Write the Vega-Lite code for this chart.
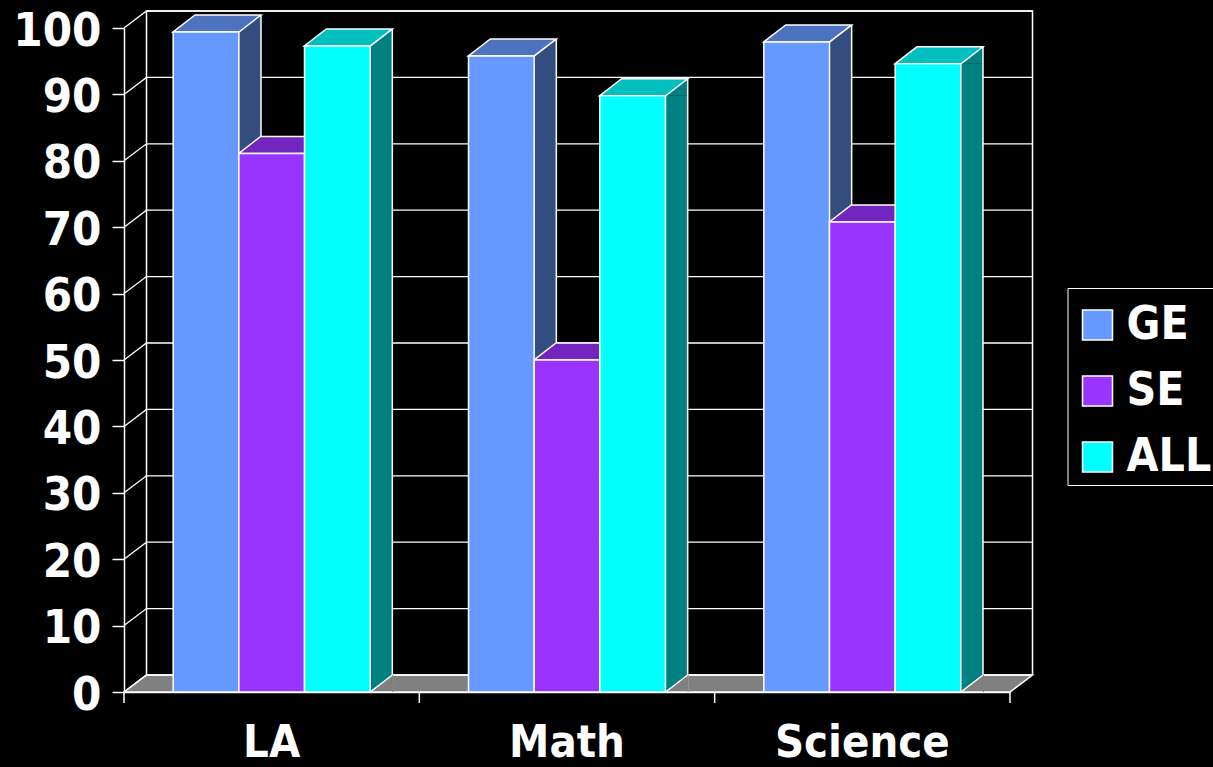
{
"$schema":"https://vega.github.io/schema/vega-lite/v6.json",
"width":886,"height":664,
"autosize":"none",
"padding":{"left":124,"top":28,"right":203,"bottom":75},
"background":"#000000",
"config":{"view":{"stroke":null},"font":"DejaVu Sans Condensed"},
"datasets":{
"bars":[
{"subject":"LA","group":"GE","score":99.4},
{"subject":"LA","group":"SE","score":81.1},
{"subject":"LA","group":"ALL","score":97.3},
{"subject":"Math","group":"GE","score":95.8},
{"subject":"Math","group":"SE","score":50},
{"subject":"Math","group":"ALL","score":89.8},
{"subject":"Science","group":"GE","score":97.9},
{"subject":"Science","group":"SE","score":70.8},
{"subject":"Science","group":"ALL","score":94.6}],
"ticks":[{"t":0},{"t":10},{"t":20},{"t":30},{"t":40},{"t":50},{"t":60},{"t":70},{"t":80},{"t":90},{"t":100}],
"base":[{"t":0}]
},
"resolve":{"scale":{"color":"independent"},"axis":{"x":"independent","y":"independent"}},
"layer":[
{"data":{"name":"base"},
"mark":{"type":"point","filled":true,"opacity":1,"size":4,"fill":"#808080","stroke":"#ffffff","strokeWidth":1.5,
"shape":"M-147.67 0L738.33 0L760.83 -17L-125.17 -17Z"},
"encoding":{
"x":{"datum":"LA","type":"nominal","scale":{"domain":["LA","Math","Science"],"paddingInner":0.333,"paddingOuter":0.1665},
"axis":{"title":null,"labelAngle":0,"labelColor":"#ffffff","labelFont":"DejaVu Sans Condensed","labelFontWeight":"bold","labelFontSize":45,"labelPadding":17,"tickOpacity":0,"tickSize":11,"domainColor":"#ffffff","domainWidth":1.5,"labelBaseline":"top"}},
"y":{"field":"t","type":"quantitative","scale":{"domain":[0,100],"nice":false},
"axis":{"title":null,"values":[0,10,20,30,40,50,60,70,80,90,100],"grid":false,"labelColor":"#ffffff","labelFont":"DejaVu Sans Condensed","labelFontWeight":"bold","labelFontSize":47,"labelPadding":11,"labelOffset":3,"tickSize":12,"tickColor":"#ffffff","tickWidth":1.5,"domainColor":"#ffffff","domainWidth":1.5}}
}},
{"data":{"name":"base"},
"mark":{"type":"point","filled":false,"opacity":1,"size":4,"stroke":"#ffffff","strokeWidth":1.5,
"shape":"M-147.67 0L-147.67 11M147.67 0L147.67 11M443 0L443 11M738.33 0L738.33 11"},
"encoding":{"x":{"datum":"LA","type":"nominal","axis":null},"y":{"field":"t","type":"quantitative","axis":null}}},
{"data":{"name":"base"},
"mark":{"type":"point","filled":false,"opacity":1,"size":4,"stroke":"#ffffff","strokeWidth":1.5,
"shape":"M-125.17 -17L-125.17 -681L760.83 -681L760.83 -17"},
"encoding":{"x":{"datum":"LA","type":"nominal","axis":null},"y":{"field":"t","type":"quantitative","axis":null}}},
{"data":{"name":"ticks"},
"mark":{"type":"point","filled":false,"opacity":1,"size":4,"stroke":"#ffffff","strokeWidth":1.3,
"shape":"M-147.67 0L-125.17 -17L760.83 -17"},
"encoding":{"x":{"datum":"LA","type":"nominal","axis":null},"y":{"field":"t","type":"quantitative","axis":null}}},
{"data":{"name":"bars"},
"transform":[{"filter":"datum.group == 'GE'"}],
"mark":{"type":"bar","width":22,"xOffset":-21.67,"color":"#334D80"},
"encoding":{
"x":{"field":"subject","type":"nominal","axis":null},
"y":{"field":"score","type":"quantitative","axis":null,"stack":null}}},
{"data":{"name":"bars"},
"transform":[{"filter":"datum.group == 'SE'"}],
"mark":{"type":"bar","width":22,"xOffset":44,"color":"#4D1A80"},
"encoding":{
"x":{"field":"subject","type":"nominal","axis":null},
"y":{"field":"score","type":"quantitative","axis":null,"stack":null}}},
{"data":{"name":"bars"},
"transform":[{"filter":"datum.group == 'ALL'"}],
"mark":{"type":"bar","width":22,"xOffset":109.67,"color":"#008080"},
"encoding":{
"x":{"field":"subject","type":"nominal","axis":null},
"y":{"field":"score","type":"quantitative","axis":null,"stack":null}}},
{"data":{"name":"bars"},
"mark":{"type":"point","filled":true,"opacity":1,"size":4,"shape":"M33 0L55 -17L55 0Z"},
"encoding":{
"x":{"field":"subject","type":"nominal","axis":null},
"xOffset":{"field":"group","type":"nominal","scale":{"domain":["GE","SE","ALL"]}},
"y":{"field":"score","type":"quantitative","axis":null},
"color":{"field":"group","type":"nominal","legend":null,"scale":{"domain":["GE","SE","ALL"],"range":["#334D80","#4D1A80","#008080"]}}}},
{"data":{"name":"bars"},
"transform":[{"filter":"datum.group == 'GE'"}],
"mark":{"type":"bar","width":1.5,"xOffset":-10.67,"yOffset":-17,"color":"#ffffff"},
"encoding":{
"x":{"field":"subject","type":"nominal","axis":null},
"y":{"field":"score","type":"quantitative","axis":null,"stack":null}}},
{"data":{"name":"bars"},
"transform":[{"filter":"datum.group == 'ALL'"}],
"mark":{"type":"bar","width":1.5,"xOffset":120.67,"yOffset":-17,"color":"#ffffff"},
"encoding":{
"x":{"field":"subject","type":"nominal","axis":null},
"y":{"field":"score","type":"quantitative","axis":null,"stack":null}}},
{"data":{"name":"bars"},
"mark":{"type":"point","filled":true,"opacity":1,"size":4,"strokeWidth":0,"fill":"#808080","shape":"M33 0L56 0L56 -17.8L33 0Z"},
"encoding":{
"x":{"field":"subject","type":"nominal","axis":null},
"xOffset":{"field":"group","type":"nominal","scale":{"domain":["GE","SE","ALL"]}},
"y":{"datum":0,"axis":null}}},
{"data":{"name":"bars"},
"mark":{"type":"point","filled":false,"opacity":1,"size":4,"strokeWidth":1.5,"stroke":"#ffffff","shape":"M55 0L33 0L55 -17"},
"encoding":{
"x":{"field":"subject","type":"nominal","axis":null},
"xOffset":{"field":"group","type":"nominal","scale":{"domain":["GE","SE","ALL"]}},
"y":{"datum":0,"axis":null}}},
{"data":{"name":"bars"},
"mark":{"type":"point","filled":true,"opacity":1,"size":4,"strokeWidth":1.5,"stroke":"#ffffff","shape":"M-33 0L33 0L55 -17L-11 -17Z"},
"encoding":{
"x":{"field":"subject","type":"nominal","axis":null},
"xOffset":{"field":"group","type":"nominal","scale":{"domain":["GE","SE","ALL"]}},
"y":{"field":"score","type":"quantitative","axis":null},
"color":{"field":"group","type":"nominal","legend":null,"scale":{"domain":["GE","SE","ALL"],"range":["#4D73BF","#7326BF","#00BFBF"]}}}},
{"data":{"name":"bars"},
"mark":{"type":"bar","stroke":"#ffffff","strokeWidth":1.5},
"encoding":{
"x":{"field":"subject","type":"nominal","axis":null},
"xOffset":{"field":"group","type":"nominal","scale":{"domain":["GE","SE","ALL"]}},
"y":{"field":"score","type":"quantitative","axis":null},
"color":{"field":"group","type":"nominal","scale":{"domain":["GE","SE","ALL"],"range":["#6699FF","#9933FF","#00FFFF"]},
"legend":{"title":" ","titleFontSize":4,"titlePadding":5,"orient":"none","legendX":943.5,"legendY":260,"symbolType":"square","symbolSize":900,"symbolStrokeColor":"#ffffff","symbolStrokeWidth":1.5,"symbolOpacity":1,"labelColor":"#ffffff","labelFont":"DejaVu Sans Condensed","labelFontWeight":"bold","labelFontSize":46,"labelLimit":300,"rowPadding":20,"labelOffset":6,"strokeColor":"#ffffff","padding":5,"symbolOffset":2,"fillColor":"#000000"}}}}
]
}
